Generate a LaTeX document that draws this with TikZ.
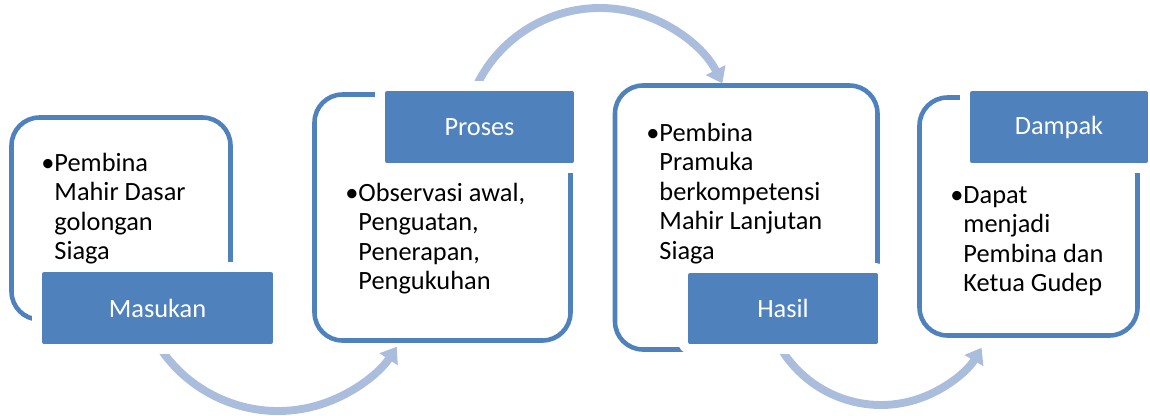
\documentclass[tikz,border=0pt]{standalone}
\usepackage{fontspec}
\setmainfont{Carlito}
\usepackage{tikz}
\usetikzlibrary{positioning,calc,arrows.meta}
\definecolor{smblue}{HTML}{4F81BD}
\definecolor{smarc}{HTML}{AABDDC}

\begin{document}
\begin{tikzpicture}[
  x=0.02cm, y=0.02cm,
  boxline/.style={draw=smblue, line width=2.6pt, rounded corners=0.56cm, inner sep=0pt},
  labelbox/.style={fill=smblue, draw=white, line width=5.5pt, rounded corners=4pt,
    text=white, font=\fontsize{15}{16.7}\selectfont, inner sep=0pt},
  bodytext/.style={align=left, inner sep=0pt, anchor=base west, font=\fontsize{15}{16.7}\selectfont},
  arcarrow/.style={draw=smarc, line width=4.5pt, -{Triangle[length=0.3cm,width=0.42cm]}},
]
\useasboundingbox (0,0) rectangle (1150,-416);

% arc centres (pixel grid, y downwards negative)
\coordinate (m1) at (278,-269);
\coordinate (m2) at (600,-145);
\coordinate (m3) at (881,-288);
\coordinate (s1) at ($(m1)+(200:2.84cm)$);
\coordinate (s2) at ($(m2)+(165:2.74cm)$);
\coordinate (s3) at ($(m3)+(200:2.34cm)$);

% connecting arcs (behind everything)
\draw[arcarrow] (s1) arc[start angle=200, end angle=326.8, radius=2.84cm];
\draw[arcarrow] (s2) arc[start angle=165, end angle=26.7, radius=2.74cm];
\draw[arcarrow] (s3) arc[start angle=200, end angle=329.3, radius=2.34cm];

% outline boxes
\foreach \name/\x/\y/\w/\h in {%
  box1/121/-218.5/219/202,
  box2/442.5/-217.5/256/246,
  box3/746.25/-217.5/262.5/264,
  box4/1028.5/-216.5/218/238%
} {
  \node[boxline, minimum width=\w*0.02cm, minimum height=\h*0.02cm] (\name) at (\x,\y) {};
}

% title boxes
\node[labelbox, minimum width=4.82cm, minimum height=1.64cm] (masukan) at (157.5,-308) {Masukan};
\node[labelbox, minimum width=3.98cm, minimum height=1.64cm] (proses) at (479.5,-127) {Proses};
\node[labelbox, minimum width=4.00cm, minimum height=1.62cm] (hasil) at (783,-308.5) {Hasil};
\node[labelbox, minimum width=3.76cm, minimum height=1.64cm] (dampak) at (1059,-127) {Dampak};

% bullet texts (anchored at the baseline of the last line)
\node[bodytext] (txt1) at (41,-259.5)
  {\textbullet Pembina\\\hphantom{\textbullet}Mahir Dasar\\\hphantom{\textbullet}golongan\\\hphantom{\textbullet}Siaga};
\node[bodytext] (txt2) at (345,-289.5)
  {\textbullet Observasi awal,\\\hphantom{\textbullet}Penguatan,\\\hphantom{\textbullet}Penerapan,\\\hphantom{\textbullet}Pengukuhan};
\node[bodytext] (txt3) at (646,-259)
  {\textbullet Pembina\\\hphantom{\textbullet}Pramuka\\\hphantom{\textbullet}berkompetensi\\\hphantom{\textbullet}Mahir Lanjutan\\\hphantom{\textbullet}Siaga};
\node[bodytext] (txt4) at (950,-291.5)
  {\textbullet Dapat\\\hphantom{\textbullet}menjadi\\\hphantom{\textbullet}Pembina dan\\\hphantom{\textbullet}Ketua Gudep};
\end{tikzpicture}
\end{document}
